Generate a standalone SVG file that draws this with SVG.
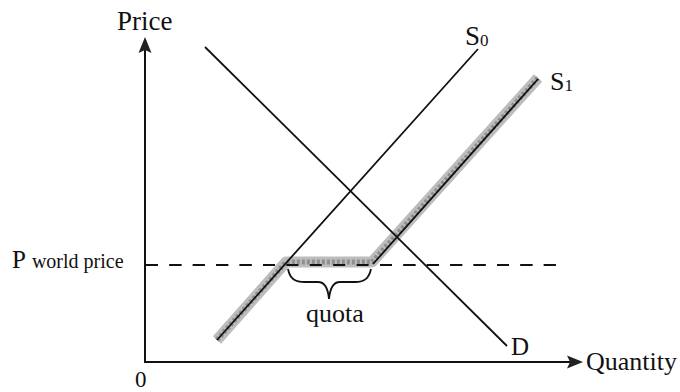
<svg xmlns="http://www.w3.org/2000/svg" width="680" height="392" viewBox="0 0 680 392">
<style>
text{font-family:"Liberation Serif","Times New Roman",serif;fill:#111}
.ax{stroke:#111;stroke-width:2;fill:none}
.ln{stroke:#111;stroke-width:1.8;fill:none}
.band{stroke:#bdbdbd;stroke-width:11;fill:none;stroke-linejoin:round}
.bandin{stroke:#8f8f8f;stroke-width:5;fill:none;stroke-dasharray:3 2;stroke-linejoin:round}
.dash{stroke:#111;stroke-width:2;fill:none;stroke-dasharray:12 11.4}
</style>
<rect width="680" height="392" fill="#fff"/>
<g id="axes">
<line class="ax" x1="145" y1="362" x2="145" y2="48"/>
<line class="ax" x1="144" y1="362" x2="572" y2="362"/>
<polygon points="145,37 138.5,53 145,50 151.5,53" fill="#222"/>
<polygon points="583,362 567,355.5 570,362 567,368.5" fill="#222"/>
<text x="117" y="30" font-size="27">Price</text>
<text x="586" y="370" font-size="26">Quantity</text>
<text x="135" y="387" font-size="23">0</text>
</g>
<g id="world-price">
<line class="dash" x1="146" y1="265" x2="556" y2="265"/>
<text x="12" y="268"><tspan font-size="25">P</tspan><tspan font-size="20" dx="6">world price</tspan></text>
</g>
<g id="s1">
<polyline class="band" points="217,340 286,262 372,262 538,78"/>
<polyline class="bandin" points="217,340 286,262 372,262 538,78"/>
<line class="ln" x1="373" y1="264" x2="538" y2="79" stroke="#444" stroke-width="1.2"/>
<line class="dash" x1="146" y1="265" x2="556" y2="265"/>
<text x="550" y="90" font-size="26">S<tspan font-size="17" dy="1">1</tspan></text>
</g>
<g id="s0">
<line class="ln" x1="217" y1="340" x2="478" y2="49"/>
<text x="465" y="45" font-size="27">S<tspan font-size="17" dy="1">0</tspan></text>
</g>
<g id="d">
<line class="ln" x1="205" y1="47" x2="507" y2="346"/>
<text x="511" y="355" font-size="25">D</text>
</g>
<g id="quota">
<path class="ln" d="M288,269 C290,279 295,282 305,282 L318,282 C325,282 328,288 329,299 C330,288 333,282 340,282 L355,282 C365,282 369,278 371,269"/>
<text x="306" y="322" font-size="26">quota</text>
</g>
</svg>
